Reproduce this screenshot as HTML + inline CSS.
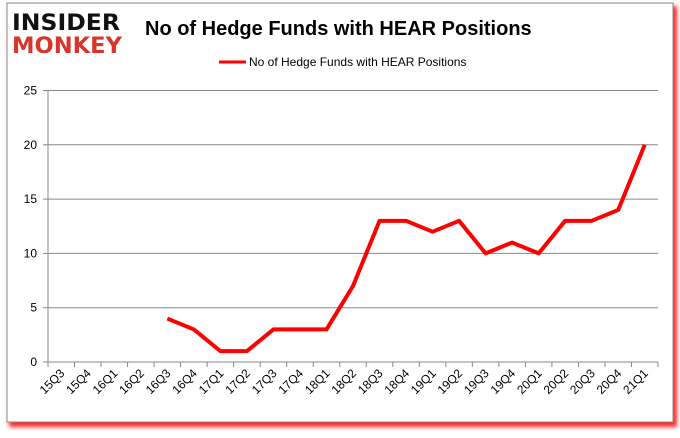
<!DOCTYPE html>
<html><head><meta charset="utf-8"><style>
body{margin:0;background:#fff;width:680px;height:433px;overflow:hidden;font-family:"Liberation Sans",sans-serif}
</style></head><body>
<svg width="680" height="433" xmlns="http://www.w3.org/2000/svg">
<defs><filter id="sh" x="-5%" y="-5%" width="110%" height="112%"><feGaussianBlur stdDeviation="2"/></filter></defs>
<rect x="9" y="6" width="668" height="421" fill="#f00" opacity="0.85" filter="url(#sh)"/>
<rect x="7" y="3" width="666" height="419" fill="#fff" stroke="#888" stroke-width="1"/>
<g font-family="'DejaVu Sans', sans-serif" font-weight="bold">
<text x="12" y="30" font-size="22" fill="#111" textLength="108" lengthAdjust="spacingAndGlyphs">INSIDER</text>
<text x="12" y="53" font-size="22" fill="#d9352b" textLength="110" lengthAdjust="spacingAndGlyphs">MONKEY</text>
</g>
<text x="145" y="35" font-size="20" font-weight="bold" fill="#000">No of Hedge Funds with HEAR Positions</text>
<g>
<line x1="219" y1="62" x2="246" y2="62" stroke="#f00" stroke-width="3"/>
<text x="249" y="66" font-size="12" fill="#000">No of Hedge Funds with HEAR Positions</text>
</g>
<g id="grid"></g><g id="axes"></g><g id="series"></g>
</svg>
<script>
const categories=["15Q3","15Q4","16Q1","16Q2","16Q3","16Q4","17Q1","17Q2","17Q3","17Q4","18Q1","18Q2","18Q3","18Q4","19Q1","19Q2","19Q3","19Q4","20Q1","20Q2","20Q3","20Q4","21Q1"];
const values=[null,null,null,null,4,3,1,1,3,3,3,7,13,13,12,13,10,11,10,13,13,14,20];
const yTicks=[0,5,10,15,20,25];
const NS="http://www.w3.org/2000/svg";
const x0=48,x1=658,y0=362,yTop=90.5,yMax=25;
const step=(x1-x0)/categories.length;
const xs=i=>x0+(i+0.5)*step;
const ys=v=>y0-(v/yMax)*(y0-yTop);
function mk(tag,attrs,parent){const e=document.createElementNS(NS,tag);for(const k in attrs)e.setAttribute(k,attrs[k]);parent.appendChild(e);return e;}
const grid=document.getElementById('grid'),axes=document.getElementById('axes'),ser=document.getElementById('series');
yTicks.forEach(t=>{
  const y=ys(t);
  if(t>0){const g=mk('line',{x1:x0,x2:x1,y1:y,y2:y,stroke:'#888','stroke-width':1},grid);
  
  }
  const tk=mk('line',{x1:x0-5,x2:x0,y1:y,y2:y,stroke:'#888'},axes);
  
  
  const tx=mk('text',{x:x0-11,y:y+4,'text-anchor':'end','font-size':12,fill:'#000'},axes);
  tx.textContent=t;
  
  
});
const ya=mk('line',{x1:x0,x2:x0,y1:yTop,y2:y0,stroke:'#888'},axes);


const xa=mk('line',{x1:x0,x2:x1,y1:y0,y2:y0,stroke:'#888'},axes);


categories.forEach((c,i)=>{
  const tx0=x0+i*step;
  const tk=mk('line',{x1:tx0,x2:tx0,y1:y0,y2:y0+5,stroke:'#888'},axes);
  
  
  const cx=xs(i)+4,cy=y0+12;
  const t=mk('text',{x:cx,y:cy,'text-anchor':'end','font-size':12,fill:'#000',transform:`rotate(-45 ${cx} ${cy})`},axes);
  t.textContent=c;
  
  
});
const last=mk('line',{x1:x1,x2:x1,y1:y0,y2:y0+5,stroke:'#888'},axes);


let d='';values.forEach((v,i)=>{if(v==null)return;d+=(d?'L':'M')+xs(i)+' '+ys(v);});
const p=mk('path',{d:d,fill:'none',stroke:'#f00','stroke-width':4,'stroke-linejoin':'round'},ser);


</script>
</body></html>
